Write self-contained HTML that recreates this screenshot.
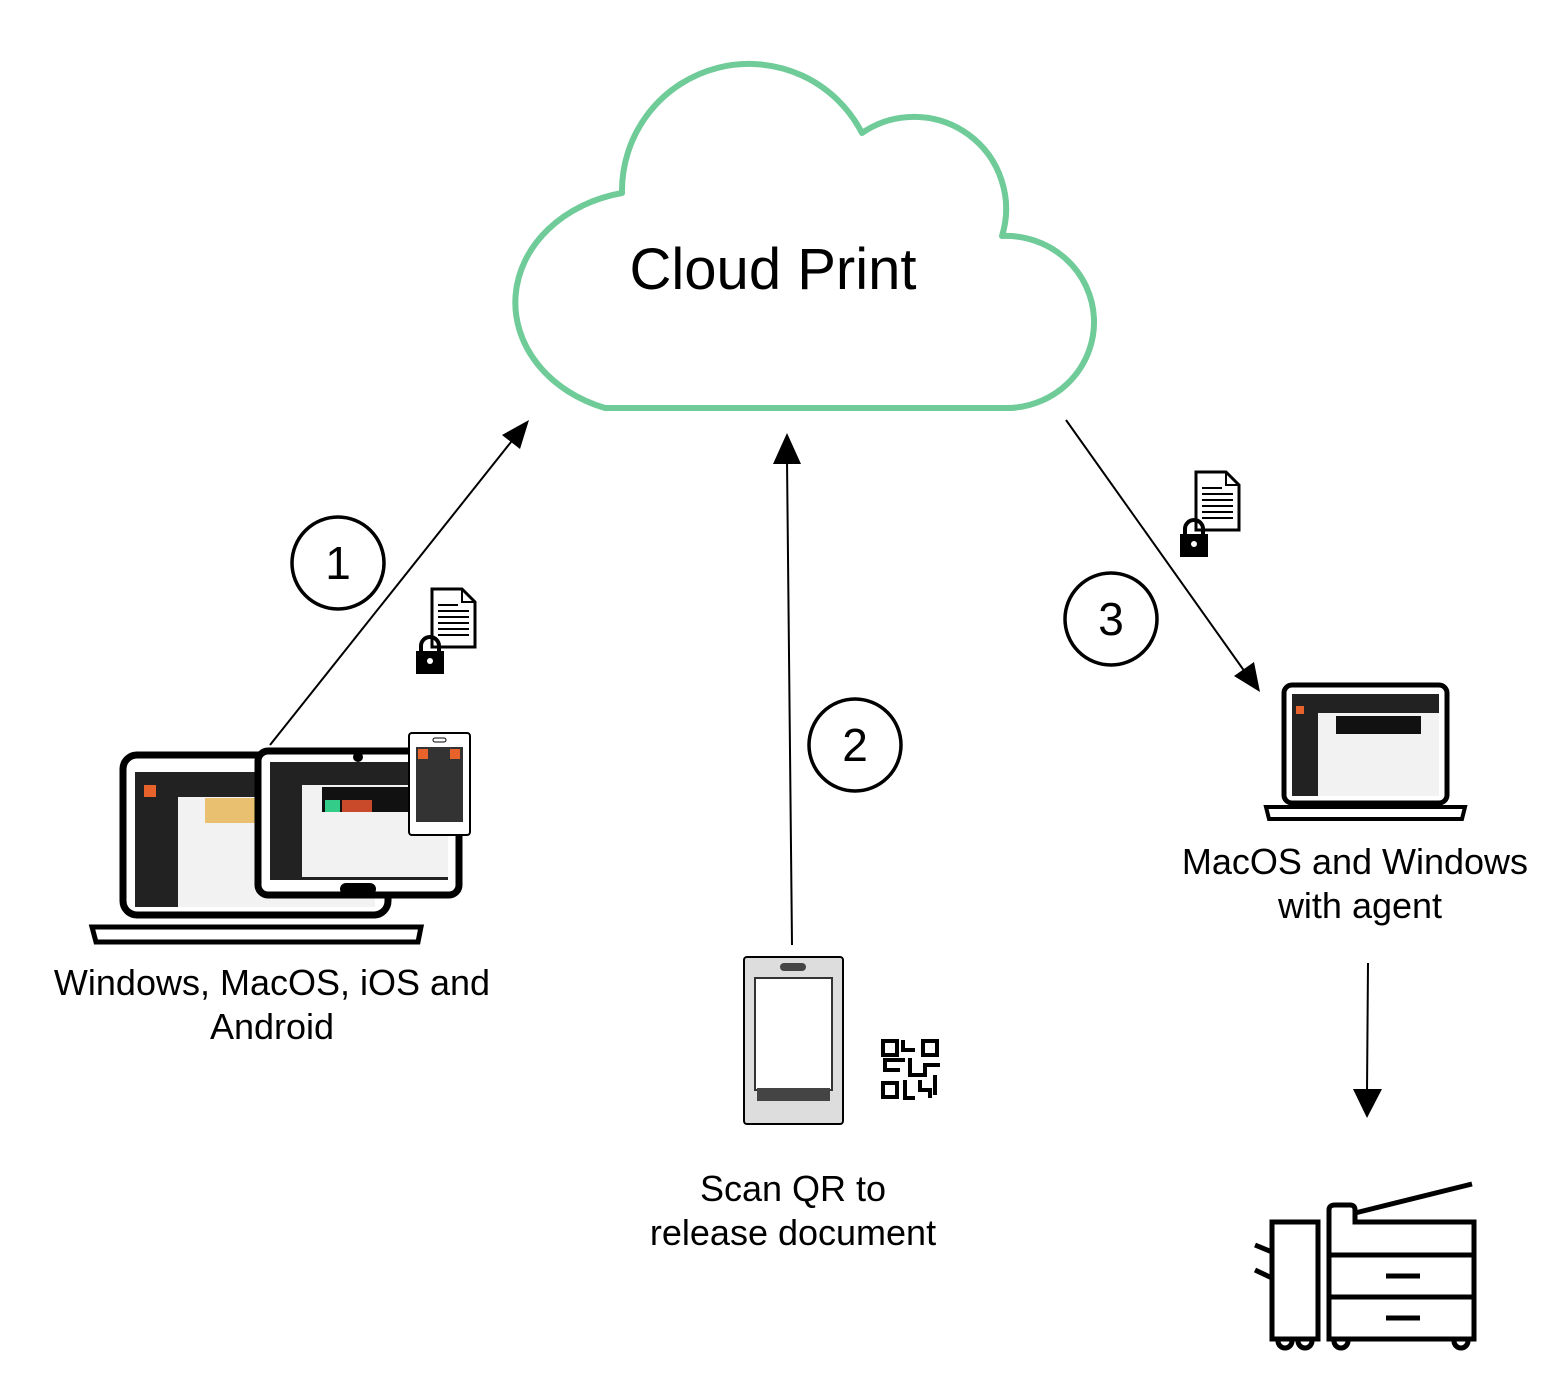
<!DOCTYPE html>
<html><head><style>html,body{margin:0;padding:0;background:#fff}svg{display:block}text{font-family:"Liberation Sans",Arial,sans-serif;fill:#000}</style></head>
<body>
<svg width="1566" height="1384" viewBox="0 0 1566 1384" xmlns="http://www.w3.org/2000/svg">
<!-- cloud -->
<path d="M605,408 A135,112 0 0 1 622,193 A127,127 0 0 1 862,133 A92,92 0 0 1 1002,236 A88,86 0 0 1 1010,408 Z" fill="#fff" stroke="#6fcb98" stroke-width="6" stroke-linejoin="round"/>
<text x="773" y="289" font-size="58" text-anchor="middle">Cloud Print</text>

<!-- arrows -->
<g stroke="#000" stroke-width="2" fill="none">
<line x1="270" y1="745" x2="515" y2="437"/>
<line x1="792" y1="945" x2="787" y2="460"/>
<line x1="1066" y1="420" x2="1245" y2="672"/>
<line x1="1368" y1="963" x2="1367" y2="1092"/>
</g>
<polygon points="529,420 520,449 502,435" fill="#000"/>
<polygon points="787,433 801,464 773,464" fill="#000"/>
<polygon points="1260,692 1234,676 1254,662" fill="#000"/>
<polygon points="1367,1118 1353,1089 1382,1089" fill="#000"/>

<!-- numbered circles -->
<g fill="#fff" stroke="#000" stroke-width="3.5">
<circle cx="338" cy="563" r="46"/>
<circle cx="855" cy="745" r="46"/>
<circle cx="1111" cy="619" r="46"/>
</g>
<text x="338" y="579" font-size="46" text-anchor="middle">1</text>
<text x="855" y="761" font-size="46" text-anchor="middle">2</text>
<text x="1111" y="635" font-size="46" text-anchor="middle">3</text>

<!-- doc+lock icons -->
<g id="doc1">
<path d="M432,589 H462 L475,602 V647 H432 Z" fill="#fff" stroke="#000" stroke-width="3"/>
<path d="M462,589 V602 H475" fill="none" stroke="#000" stroke-width="2"/>
<g stroke="#000" stroke-width="2"><line x1="438" y1="605" x2="458" y2="605"/><line x1="438" y1="611" x2="469" y2="611"/><line x1="438" y1="617" x2="469" y2="617"/><line x1="438" y1="623" x2="469" y2="623"/><line x1="438" y1="629" x2="469" y2="629"/><line x1="438" y1="635" x2="469" y2="635"/></g>
<path d="M421,652 V646 A9,9 0 0 1 439,646 V652" fill="none" stroke="#000" stroke-width="4"/>
<rect x="416" y="651" width="28" height="23" fill="#000"/>
<circle cx="430" cy="661" r="3" fill="#fff"/>
</g>
<use href="#doc1" transform="translate(764,-117)"/>

<!-- left devices -->
<rect x="123" y="755" width="265" height="160" rx="14" fill="#fff" stroke="#000" stroke-width="7"/>
<rect x="135" y="772" width="240" height="135" fill="#222"/>
<rect x="178" y="797" width="197" height="110" fill="#f2f2f2"/>
<rect x="205" y="798" width="50" height="25" fill="#e8c070"/>
<rect x="144" y="785" width="12" height="12" fill="#e8622b"/>
<path d="M92,927 H421 L418,942 H96 Z" fill="#fff" stroke="#000" stroke-width="5"/>
<rect x="258" y="751" width="201" height="144" rx="10" fill="#fff" stroke="#000" stroke-width="7"/>
<rect x="270" y="762" width="178" height="118" fill="#222"/>
<rect x="302" y="785" width="146" height="92" fill="#f2f2f2"/>
<rect x="322" y="787" width="90" height="25" fill="#111"/>
<rect x="342" y="800" width="30" height="12" fill="#c94a2a"/>
<rect x="325" y="800" width="15" height="12" fill="#3c8"/>
<circle cx="358" cy="757" r="5" fill="#000"/>
<rect x="340" y="883" width="36" height="12" rx="6" fill="#000"/>
<rect x="409" y="733" width="61" height="102" rx="3" fill="#fff" stroke="#000" stroke-width="2"/>
<rect x="416" y="747" width="47" height="75" fill="#333"/>
<rect x="418" y="749" width="10" height="10" fill="#e8622b"/>
<rect x="450" y="749" width="10" height="10" fill="#e8622b"/>
<rect x="433" y="738" width="13" height="4" rx="2" fill="none" stroke="#000" stroke-width="1"/>
<text x="272" y="995" font-size="36" text-anchor="middle">Windows, MacOS, iOS and</text>
<text x="272" y="1039" font-size="36" text-anchor="middle">Android</text>

<!-- phone -->
<rect x="744" y="957" width="99" height="167" rx="3" fill="#ddd" stroke="#000" stroke-width="2"/>
<rect x="755" y="978" width="77" height="112" fill="#fff" stroke="#333" stroke-width="2"/>
<rect x="757" y="1088" width="73" height="13" fill="#444"/>
<rect x="780" y="963" width="26" height="8" rx="4" fill="#444"/>
<!-- QR -->
<g fill="none" stroke="#000" stroke-width="4">
<rect x="883" y="1041" width="14" height="14"/><rect x="923" y="1041" width="14" height="14"/><rect x="883" y="1083" width="14" height="14"/>
<path d="M903,1040 V1050 H915 M905,1060 H885 V1070 H900 M910,1058 V1075 H925 V1065 H940 M905,1080 V1098 H915 M920,1080 V1090 H930 V1098 M935,1075 V1095"/>
</g>
<text x="793" y="1201" font-size="36" text-anchor="middle">Scan QR to</text>
<text x="793" y="1245" font-size="36" text-anchor="middle">release document</text>

<!-- right laptop -->
<rect x="1284" y="685" width="163" height="118" rx="8" fill="#fff" stroke="#000" stroke-width="5"/>
<rect x="1292" y="694" width="147" height="102" fill="#222"/>
<rect x="1318" y="713" width="121" height="83" fill="#f2f2f2"/>
<rect x="1336" y="716" width="85" height="18" fill="#111"/>
<rect x="1296" y="706" width="8" height="8" fill="#e8622b"/>
<path d="M1266,807 H1465 L1462,819 H1269 Z" fill="#fff" stroke="#000" stroke-width="4"/>
<text x="1355" y="874" font-size="36" text-anchor="middle">MacOS and Windows</text>
<text x="1360" y="918" font-size="36" text-anchor="middle">with agent</text>

<!-- printer -->
<g fill="none" stroke="#000" stroke-width="5">
<rect x="1272" y="1222" width="46" height="117"/>
<path d="M1255,1245 L1272,1252 M1255,1270 L1272,1278"/>
<path d="M1329,1339 V1210 Q1329,1205 1335,1205 H1350 Q1355,1205 1355,1210 V1222 H1474 V1339 Z"/>
<path d="M1355,1213 L1472,1184"/>
<line x1="1329" y1="1255" x2="1474" y2="1255"/>
<line x1="1329" y1="1297" x2="1474" y2="1297"/>
<line x1="1386" y1="1276" x2="1420" y2="1276"/>
<line x1="1386" y1="1318" x2="1420" y2="1318"/>
<path d="M1278,1341 a7,7 0 0 0 14,0 M1298,1341 a7,7 0 0 0 14,0 M1334,1341 a7,7 0 0 0 14,0 M1454,1341 a7,7 0 0 0 14,0"/>
</g>
</svg>
</body></html>
